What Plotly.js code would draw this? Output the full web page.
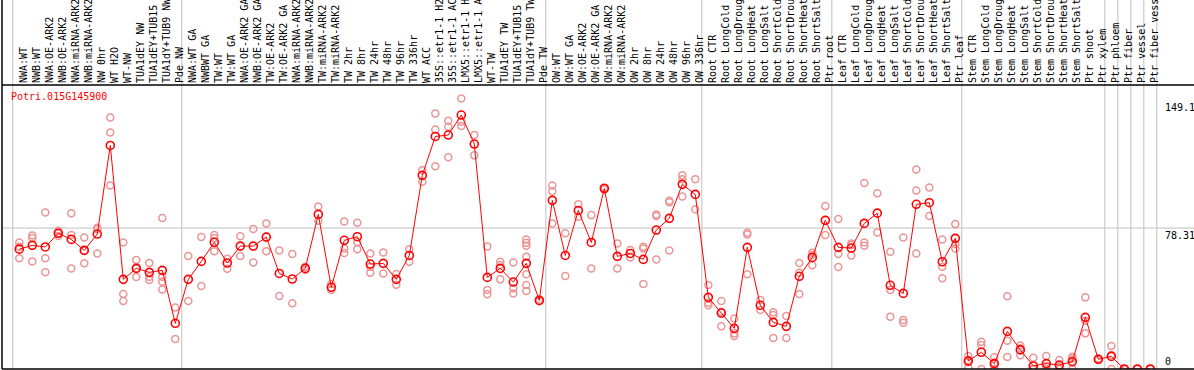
<!DOCTYPE html>
<html>
<head>
<meta charset="utf-8">
<script src="https://cdn.plot.ly/plotly-3.0.1.min.js"></script>
<style>html,body{margin:0;padding:0;background:#fff;}#chart{width:1194px;height:370px;}</style>
</head>
<body>
<div id="chart"></div>
<script>
const labels = ["NWA:WT","NWB:WT","NWA:OE-ARK2","NWB:OE-ARK2","NWA:miRNA-ARK2","NWB:miRNA-ARK2","NW 0hr","WT H2O","WT-NW","TUA1dEY NW","TUA1dEY+TUB15","TUA1dY+TUB9 NW","Pde NW",
"NWA:WT GA","NWBWT GA","TW:WT","TW:WT GA","NWA:OE-ARK2 GA","NWB:OE-ARK2 GA","TW:OE-ARK2","TW:OE-ARK2 GA","NWA:miRNA-ARK2","NWB:miRNA-ARK2","TW:miRNA-ARK2","TW:miRNA-ARK2","TW 2hr","TW 8hr","TW 24hr","TW 48hr","TW 96hr","TW 336hr","WT ACC","35S::etr1-1 H2","35S::etr1-1 AC","LMX5::etr1-1 H","LMX5::etr1-1 A","WT-TW","TUA1dEY TW","TUA1dEY+TUB15","TUA1dY+TUB9 TW","Pde TW",
"OW:WT","OW:WT GA","OW:OE-ARK2","OW:OE-ARK2 GA","OW:miRNA-ARK2","OW:miRNA-ARK2","OW 2hr","OW 8hr","OW 24hr","OW 48hr","OW 96hr","OW 336hr",
"Root CTR","Root LongCold","Root LongDroug","Root LongHeat","Root LongSalt","Root ShortCold","Root ShortDrou","Root ShortHeat","Root ShortSalt","Ptr root",
"Leaf CTR","Leaf LongCold","Leaf LongDroug","Leaf LongHeat","Leaf LongSalt","Leaf ShortCold","Leaf ShortDrou","Leaf ShortHeat","Leaf ShortSalt","Ptr leaf",
"Stem CTR","Stem LongCold","Stem LongDroug","Stem LongHeat","Stem LongSalt","Stem ShortCold","Stem ShortDrou","Stem ShortHeat","Stem ShortSalt","Ptr shoot","Ptr xylem",
"Ptr phloem","Ptr fiber","Ptr vessel","Ptr fiber vess"];

const means = [66.6,68.7,67.8,75.4,72.0,65.9,75.0,124.2,49.8,55.9,53.7,54.8,25.4,
49.8,59.8,70.4,58.9,68.3,68.3,73.3,53.1,50.0,55.9,85.9,45.4,71.5,73.5,58.3,58.7,49.8,63.1,107.6,129.2,130.0,141.1,125.0,50.9,55.9,48.3,58.7,38.1,
93.7,63.1,88.1,70.3,100.3,62.6,64.2,60.9,77.2,83.7,102.6,97.0,
39.8,31.1,22.6,67.6,35.4,25.9,23.7,51.5,62.0,82.6,
67.6,67.2,80.9,86.6,46.5,42.0,91.5,92.4,59.6,72.6,
4.4,9.3,3.0,20.9,10.6,1.7,3.0,2.2,4.1,28.7,5.4,
7.0,0,0,0];

const replicates = [
[70.3,67.9,61.5],[74.2,72.8,59.8],[87.0,61.5,53.7],[76.8,75.4,73.9],[86.5,74.4,55.9],[73.1,65.9,58.7],[78.5,77.6,64.2],[139.8,131.4,102.0],[70.3,41.7,37.8],[60.5,55.9,51.1],[58.9,51.3,49.4],[83.9,51.3,48.5,44.2],[34.2,16.7],
[62.8,37.8],[73.3,46.1],[74.4,72.8,65.4],[61.3,55.7],[73.7,62.8],[77.8,59.2],[80.9,65.4],[65.9,40.5],[63.9,36.5],[56.8,55.0],[90.3,82.4],[47.2,43.9],[82.0,67.0,64.4],[81.3,70.5,66.5],[64.2,56.8,53.5],[64.8,53.1],[52.8,46.8],[66.6,59.6],[110.5,104.0],[142.0,133.1,112.6],[137.9,134.6,117.6],[150.3,137.4,135.0],[130.0,118.7],[68.1,43.9,41.5],[59.6,57.8,49.8],[59.2,44.8,42.0],[72.0,70.2,68.5,62.4,52.6,46.7,43.3],[38.7,37.6],
[102.0,98.7,80.9],[75.4,51.7],[91.6,84.6],[85.5,55.9],[100.9,99.8],[69.8,55.9],[66.1,62.0],[67.9,67.0,47.2],[85.9,85.0,60.9],[93.5,92.6,65.9],[107.7,105.5,95.9],[105.5,88.7],
[46.7,36.8,35.4],[37.8,31.8,23.7],[28.1,19.8,18.3],[75.7,74.8,52.6],[38.3,32.8],[31.5,30.0,17.2],[29.4,17.2],[58.9,53.5,41.7],[64.6,63.3,57.6],[90.5,74.4],
[83.3,63.9,56.7],[69.8,68.9,63.1],[103.3,70.3,68.5],[97.6,75.9],[65.2,43.9,29.1],[73.1,27.2,25.7],[110.9,99.2,64.2],[100.9,85.0],[72.0,56.8,50.4],[80.5,69.4,67.0],
[7.2,5.0,0.9],[15.2,13.3,0],[6.5,3.5,0],[40.4,15.7,6.7],[13.0,11.5,7.6],[6.3,0,0],[7.2,1.7,0],[5.0,1.7,0],[6.8,5.7,0],[39.8,26.8,19.8],[5.9,5.0],
[12.8,7.8,0],[0,0],[0,0],[0,0]];

const groupBounds = [-0.5,12.5,40.5,52.5,62.5,72.5,83.5,84.5,85.5,86.5,87.5];
const yTickVals = [149.1, 78.31, 0];
const yTickText = ["149.1", "78.31", "0"];
const geneName = "Potri.015G145900";

const idx = labels.map((_, i) => i);
const repX = [], repY = [];
replicates.forEach((arr, i) => arr.forEach(v => { repX.push(i); repY.push(v); }));

const MONO = "DejaVu Sans Mono, monospace";

const shapes = [];
groupBounds.forEach(b => shapes.push({type:'line', xref:'x', yref:'paper', x0:b, x1:b, y0:0, y1:1.3, line:{color:'#c0c0c0', width:1}, layer:'below'}));
shapes.push({type:'line', xref:'paper', yref:'y', x0:0, x1:1, y0:yTickVals[1], y1:yTickVals[1], line:{color:'#c0c0c0', width:1}, layer:'below'});
shapes.push({type:'line', xref:'paper', yref:'paper', x0:0, x1:1, y0:1, y1:1, line:{color:'#000', width:1.5}});
shapes.push({type:'line', xref:'paper', yref:'paper', x0:0, x1:1, y0:0, y1:0, line:{color:'#000', width:1.5}});
shapes.push({type:'line', xref:'paper', yref:'paper', x0:0, x1:0, y0:0, y1:1.3, line:{color:'#000', width:1.5}});

const annotations = yTickVals.map((v, i) => ({
  xref:'x', yref:'y', x:88.0, y:v, text:yTickText[i], showarrow:false,
  xanchor:'left', yanchor: i === 2 ? 'bottom' : 'top', yshift: i === 0 ? 1 : 0, font:{family:MONO, size:10, color:'#000'}
}));
annotations.push({xref:'x', yref:'y', x:-0.8, y:151.2, text:geneName, showarrow:false, xanchor:'left', yanchor:'middle', font:{family:MONO, size:10, color:'#ff0000'}});

const data = [
  {x:repX, y:repY, type:'scatter', mode:'markers', marker:{symbol:'circle-open', size:7, color:'#eb9595', line:{width:1.5}}, hoverinfo:'y'},
  {x:idx, y:means, type:'scatter', mode:'lines+markers', line:{color:'#ff0000', width:1}, marker:{symbol:'circle-open', size:8, color:'#ff0000', line:{width:1.6}}}
];

const layout = {
  width:1194, height:370,
  margin:{l:2, r:0, t:85, b:1, pad:0},
  paper_bgcolor:'#fff', plot_bgcolor:'#fff',
  showlegend:false,
  xaxis:{side:'top', range:[-1.33, 90.36], tickmode:'array', tickvals:idx, ticktext:labels, tickangle:-90,
         ticklabelshift:4, ticklabelstandoff:1,
         tickfont:{family:MONO, size:10, color:'#000'}, showgrid:false, zeroline:false, showline:false, ticks:'', fixedrange:true},
  yaxis:{range:[0, 157.8], showticklabels:false, showgrid:false, zeroline:false, showline:false, ticks:'', fixedrange:true},
  shapes:shapes, annotations:annotations
};

Plotly.newPlot('chart', data, layout, {displayModeBar:false, staticPlot:true});
</script>
</body>
</html>
